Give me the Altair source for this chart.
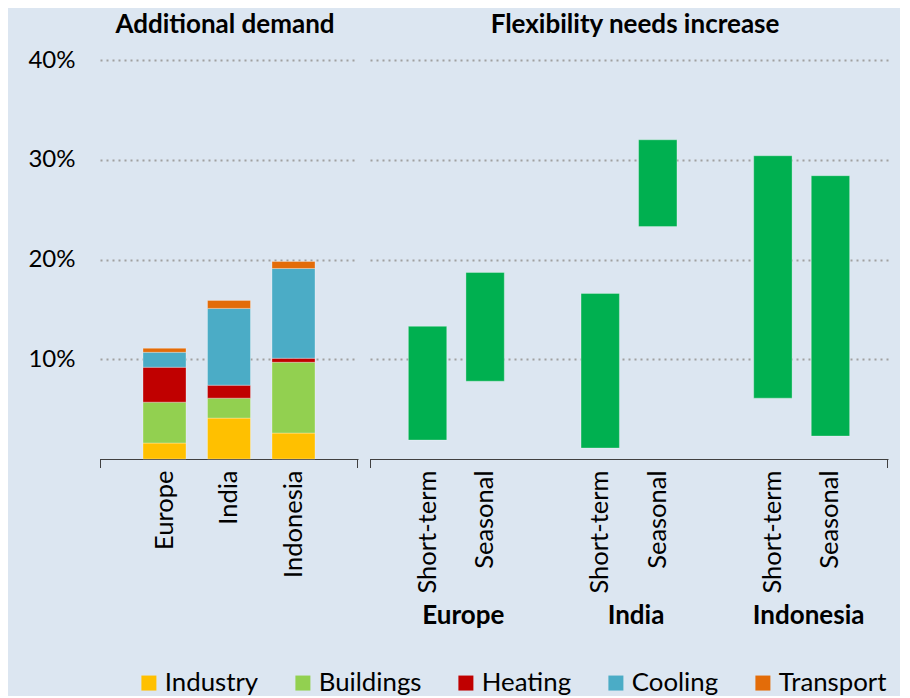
import altair as alt
import pandas as pd

# ---------------- data ----------------
regions = ["Europe", "India", "Indonesia"]
sectors = ["Industry", "Buildings", "Heating", "Cooling", "Transport"]
sector_colors = ["#FFC000", "#92D050", "#C00000", "#4BACC6", "#E36C09"]

industry = [0.016, 0.041, 0.026]
buildings = [0.041, 0.020, 0.071]
heating = [0.035, 0.013, 0.004]
cooling = [0.015, 0.077, 0.090]
transport = [0.004, 0.008, 0.007]

flex_types = ["Short-term", "Seasonal"]
flex_regions = ["Europe", "Europe", "India", "India", "Indonesia", "Indonesia"]
flex_kinds = ["Short-term", "Seasonal", "Short-term", "Seasonal", "Short-term", "Seasonal"]
flex_low = [0.019, 0.078, 0.011, 0.233, 0.061, 0.023]
flex_high = [0.133, 0.187, 0.166, 0.320, 0.304, 0.284]

y_ticks = [0.1, 0.2, 0.3, 0.4]

FONT = "Lato"
BG = "#DCE6F1"
GRID = "#A0A0A0"
AXIS_COL = "#404040"
W_LEFT, W_RIGHT, H = 258, 518, 399

# ---------------- tables ----------------
series = [industry, buildings, heating, cooling, transport]
rows = []
for si, (sec, vals) in enumerate(zip(sectors, series)):
    for r, v in zip(regions, vals):
        rows.append({"region": r, "sector": sec, "value": v, "order": si})
demand_df = pd.DataFrame(rows)

flex_df = pd.DataFrame({"region": flex_regions, "type": flex_kinds,
                        "low": flex_low, "high": flex_high})
flex_df["key"] = flex_df["region"] + "|" + flex_df["type"]
flex_keys = []
for i, r in enumerate(regions):
    flex_keys += [r + "|" + t for t in flex_types]
    if i < len(regions) - 1:
        flex_keys.append(" " * (i + 1))

y_scale = alt.Scale(domain=[0, 0.4], nice=False, zero=True)
grid_kw = dict(grid=True, gridColor=GRID, gridDash=[2, 4], gridWidth=2)

one = alt.Data(values=[{"a": 0}])


def end_ticks(w):
    return [
        alt.Chart(one).mark_rule(color=AXIS_COL, strokeWidth=1).encode(
            x=alt.value(xp), y=alt.value(H), y2=alt.value(H + 9))
        for xp in (0.5, w - 0.5)
    ]


# ---------------- left panel ----------------
left_bars = alt.Chart(demand_df).mark_bar(
    stroke="white", strokeWidth=0.6, strokeOpacity=0.5
).encode(
    x=alt.X("region:N", sort=regions,
            scale=alt.Scale(paddingInner=1 / 3, paddingOuter=2 / 3),
            axis=alt.Axis(title=None, labelAngle=270, labelPadding=11, ticks=False,
                          domainColor=AXIS_COL, domainWidth=1, labelFont=FONT,
                          labelFontSize=25.5, labelColor="#000", grid=False)),
    y=alt.Y("value:Q", stack="zero", scale=y_scale,
            axis=alt.Axis(values=y_ticks, format=".0%", domain=False, ticks=False,
                          labelPadding=25, labelFont=FONT, labelFontSize=24,
                          labelColor="#000", title=None, **grid_kw)),
    color=alt.Color("sector:N",
                    scale=alt.Scale(domain=sectors, range=sector_colors),
                    legend=alt.Legend(orient="none", legendX=36, legendY=610,
                                      direction="horizontal", columns=5, title=None,
                                      symbolType="square", symbolSize=225,
                                      symbolStrokeWidth=0, labelFont=FONT,
                                      labelFontSize=25.8, labelColor="#000",
                                      columnPadding=31, labelOffset=3)),
    order=alt.Order("order:Q", sort="ascending"),
)

left = alt.layer(left_bars, *end_ticks(W_LEFT)).properties(
    width=W_LEFT, height=H,
    title=alt.TitleParams("Additional demand", font=FONT, fontSize=26,
                          fontWeight="bold", color="#000", frame="group",
                          baseline="alphabetic", offset=-11, dx=-4),
)

# ---------------- right panel ----------------
flex_bars = alt.Chart(flex_df).mark_bar(
    color="#00B050", stroke="white", strokeWidth=0.6, strokeOpacity=0.5
).encode(
    x=alt.X("key:N",
            scale=alt.Scale(domain=flex_keys, paddingInner=1 / 3, paddingOuter=2 / 3),
            axis=alt.Axis(title=None, labelAngle=270, labelPadding=11, ticks=False,
                          labelExpr="split(datum.value, '|')[1] || ''",
                          domainColor=AXIS_COL, domainWidth=1, labelFont=FONT,
                          labelFontSize=25.5, labelColor="#000", grid=False)),
    y=alt.Y("low:Q", scale=y_scale,
            axis=alt.Axis(values=y_ticks, labels=False, domain=False, ticks=False,
                          title=None, **grid_kw)),
    y2="high:Q",
)

region_axis = alt.Chart(pd.DataFrame({"region": regions})).mark_point(opacity=0).encode(
    x=alt.X("region:N", sort=regions,
            scale=alt.Scale(type="band", paddingInner=0, paddingOuter=0),
            axis=alt.Axis(orient="bottom", title=None, labelAngle=0, ticks=False,
                          tickSize=0, domain=False, labelPadding=164,
                          labelBaseline="alphabetic", labelOffset=7,
                          labelFont=FONT, labelFontSize=26, labelFontWeight="bold",
                          labelColor="#000", grid=False)),
)

right = alt.layer(flex_bars, region_axis, *end_ticks(W_RIGHT)).resolve_scale(
    x="independent"
).properties(
    width=W_RIGHT, height=H,
    title=alt.TitleParams("Flexibility needs increase", font=FONT, fontSize=26,
                          fontWeight="bold", color="#000", frame="group",
                          baseline="alphabetic", offset=1, dx=6),
)

chart = alt.hconcat(left, right, spacing=12).properties(
    background=BG,
    padding={"left": 19, "top": 4, "right": 12, "bottom": 0},
).configure_view(strokeWidth=0)

chart.save("out.html", embed_options={"renderer": "svg", "actions": False})
